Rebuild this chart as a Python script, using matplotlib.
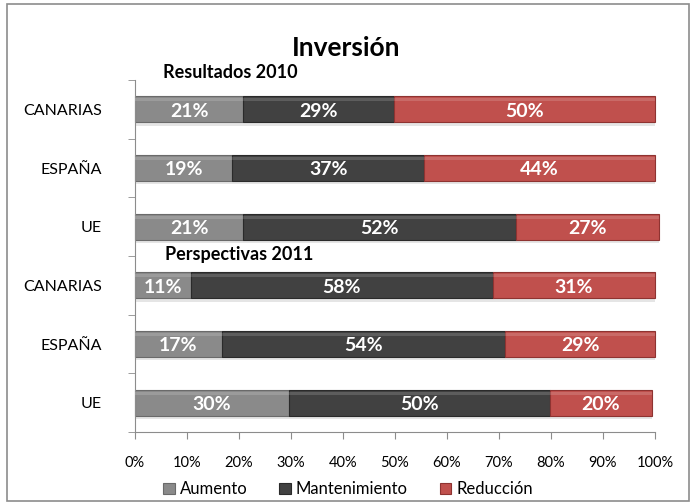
import matplotlib.pyplot as plt
from matplotlib.patches import Rectangle
import numpy as np

plt.rcParams['font.family'] = ['Lato', 'DejaVu Sans']

categorias = ['CANARIAS', 'ESPAÑA', 'UE', 'CANARIAS', 'ESPAÑA', 'UE']
series = ['Aumento', 'Mantenimiento', 'Reducción']
# longitudes de barra (%)
aumento = [20.8, 18.7, 20.8, 10.8, 16.7, 29.6]
mantenimiento = [29.0, 36.9, 52.5, 58.0, 54.5, 50.2]
reduccion = [50.2, 44.4, 27.5, 31.2, 28.8, 19.6]
# etiquetas tal como aparecen
etq_aumento = [21, 19, 21, 11, 17, 30]
etq_mantenimiento = [29, 37, 52, 58, 54, 50]
etq_reduccion = [50, 44, 27, 31, 29, 20]

colores = ['#8a8a8a', '#414141', '#c0504d']
bordes = ['#6a6a6a', '#2a2a2a', '#8e3331']

fig = plt.figure(figsize=(6.96, 5.03), dpi=100)
fig.patches.append(Rectangle((0.010, 0.004), 0.980, 0.988, transform=fig.transFigure,
                             fill=False, edgecolor='#8c8c8c', linewidth=1.2))
ax = fig.add_axes([0.194, 0.141, 0.747, 0.700])

y = np.arange(len(categorias))
izq = np.zeros(len(categorias))
valores = [aumento, mantenimiento, reduccion]
etiquetas = [etq_aumento, etq_mantenimiento, etq_reduccion]
alto = 0.44

for k in range(3):
    v = np.array(valores[k])
    # sombra
    ax.barh(y + 0.06, v, left=izq, height=alto, color='#000000', alpha=0.10, zorder=1,
            clip_on=False)
    ax.barh(y, v, left=izq, height=alto, color=colores[k], edgecolor=bordes[k],
            linewidth=0.8, zorder=2, label=series[k], clip_on=False)
    # brillo superior
    ax.barh(y - alto * 0.37, v, left=izq, height=alto * 0.12, color='white',
            alpha=0.15, linewidth=0, zorder=3, clip_on=False)
    for i in range(len(categorias)):
        ax.text(izq[i] + v[i] / 2, y[i] + 0.03, f'{etiquetas[k][i]}%', ha='center', va='center',
                color='white', fontsize=14, fontweight='bold', zorder=4)
    izq = izq + v

ax.set_xlim(0, 100)
ax.set_ylim(5.5, -0.5)
ax.set_xticks(np.arange(0, 101, 10))
ax.set_xticklabels([f'{t}%' for t in range(0, 101, 10)], fontsize=10.5)
ax.set_yticks(y)
ax.set_yticklabels(categorias, fontsize=11.5)
ax.set_yticks(np.arange(-0.5, 6, 1), minor=True)
ax.tick_params(axis='y', which='major', length=0, pad=24)
ax.tick_params(axis='y', which='minor', length=5, color='#8c8c8c', direction='out')
ax.tick_params(axis='x', length=5, color='#8c8c8c', direction='out', pad=12)
for s in ['top', 'right']:
    ax.spines[s].set_visible(False)
for s in ['left', 'bottom']:
    ax.spines[s].set_color('#8c8c8c')

ax.text(5.4, -0.62, 'Resultados 2010', fontsize=13, fontweight='bold', va='center', ha='left')
ax.text(5.8, 2.47, 'Perspectivas 2011', fontsize=13, fontweight='bold', va='center', ha='left')
fig.text(0.497, 0.905, 'Inversión', fontsize=19, fontweight='bold', ha='center', va='center')

fig.legend(loc='center', bbox_to_anchor=(0.5, 0.027), ncol=3, frameon=False, fontsize=12,
           handlelength=0.7, handleheight=0.7, handletextpad=0.3, columnspacing=1.9)

fig.savefig('out.png', dpi=100)
